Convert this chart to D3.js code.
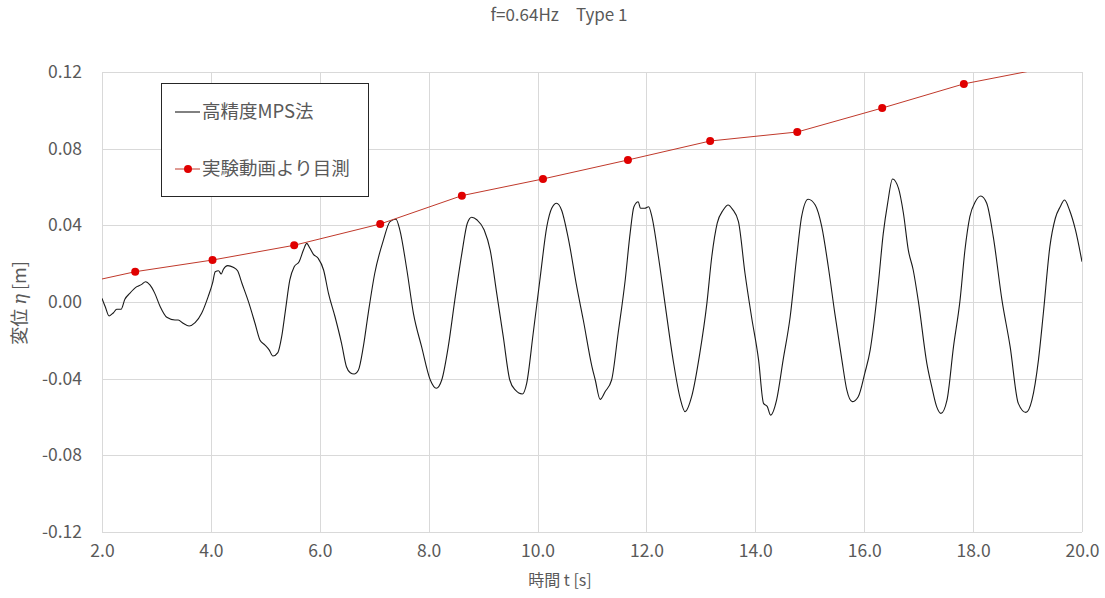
<!DOCTYPE html>
<html><head><meta charset="utf-8">
<script src="https://cdn.jsdelivr.net/npm/d3@7"></script>
<style>body{margin:0;background:#fff}svg{display:block}</style>
</head><body>
<svg id="c" width="1105" height="598"></svg>
<script>
const title = "f=0.64Hz\u3000Type 1";
const xTitle = "時間 t [s]";
const yTitleParts = ["変位 ", "η", " [m]"];
const legendLabels = ["高精度MPS法", "実験動画より目測"];
const xTicks = [2, 4, 6, 8, 10, 12, 14, 16, 18, 20];
const yTicks = [-0.12, -0.08, -0.04, 0.00, 0.04, 0.08, 0.12];

// 実験動画より目測 (red markers)
const expT   = [1.10, 2.61, 4.03, 5.53, 7.11, 8.61, 10.10, 11.66, 13.17, 14.77, 16.33, 17.83, 19.35];
const expEta = [0.0064, 0.0158, 0.0219, 0.0296, 0.0407, 0.0555, 0.0642, 0.0741, 0.0840, 0.0887, 0.1012, 0.1138, 0.1222];

// 高精度MPS法 (black line)
const mpsT = [2.00,2.06,2.13,2.21,2.27,2.35,2.42,2.51,2.64,2.73,2.80,2.88,2.97,3.07,3.19,3.34,3.40,3.49,3.60,3.71,3.83,3.95,4.03,4.08,4.14,4.19,4.23,4.31,4.41,4.49,4.57,4.69,4.81,4.90,4.99,5.07,5.14,5.23,5.30,5.37,5.45,5.53,5.62,5.70,5.76,5.82,5.88,5.97,6.07,6.16,6.28,6.40,6.49,6.56,6.63,6.71,6.80,6.89,7.01,7.17,7.29,7.40,7.47,7.60,7.72,7.87,8.03,8.14,8.24,8.36,8.48,8.61,8.71,8.79,8.89,9.02,9.13,9.25,9.37,9.49,9.59,9.72,9.80,9.92,10.05,10.17,10.26,10.35,10.44,10.57,10.72,10.84,11.00,11.06,11.15,11.24,11.36,11.48,11.61,11.70,11.77,11.85,11.89,11.97,12.04,12.10,12.22,12.34,12.49,12.62,12.71,12.83,12.98,13.11,13.20,13.30,13.41,13.50,13.58,13.69,13.81,13.93,14.06,14.15,14.22,14.28,14.39,14.51,14.64,14.76,14.85,14.97,15.10,15.22,15.34,15.46,15.59,15.68,15.78,15.89,16.01,16.11,16.17,16.26,16.35,16.43,16.52,16.63,16.72,16.81,16.90,17.00,17.15,17.24,17.33,17.41,17.52,17.64,17.76,17.85,17.94,18.04,18.14,18.25,18.37,18.53,18.68,18.83,18.97,19.08,19.20,19.29,19.41,19.51,19.60,19.68,19.77,19.88,20.00];
const mpsEta = [0.0019,-0.0025,-0.0073,-0.0056,-0.0038,-0.0038,0.0014,0.0045,0.0080,0.0092,0.0106,0.0089,0.0045,-0.0025,-0.0080,-0.0094,-0.0094,-0.0111,-0.0125,-0.0108,-0.0059,0.0028,0.0098,0.0158,0.0163,0.0146,0.0171,0.0190,0.0181,0.0163,0.0098,0.0002,-0.0111,-0.0198,-0.0224,-0.0250,-0.0282,-0.0264,-0.0181,-0.0042,0.0115,0.0184,0.0210,0.0271,0.0306,0.0280,0.0250,0.0228,0.0167,0.0045,-0.0077,-0.0216,-0.0338,-0.0369,-0.0376,-0.0355,-0.0233,-0.0059,0.0150,0.0324,0.0419,0.0432,0.0376,0.0167,-0.0059,-0.0233,-0.0407,-0.0450,-0.0407,-0.0233,0.0010,0.0254,0.0411,0.0442,0.0428,0.0376,0.0271,0.0045,-0.0181,-0.0407,-0.0459,-0.0480,-0.0424,-0.0163,0.0132,0.0393,0.0489,0.0515,0.0480,0.0324,0.0080,-0.0094,-0.0338,-0.0407,-0.0508,-0.0468,-0.0407,-0.0163,0.0115,0.0358,0.0497,0.0523,0.0489,0.0489,0.0497,0.0445,0.0236,-0.0007,-0.0303,-0.0503,-0.0572,-0.0494,-0.0268,-0.0007,0.0236,0.0411,0.0480,0.0506,0.0484,0.0419,0.0150,-0.0077,-0.0303,-0.0529,-0.0546,-0.0590,-0.0512,-0.0303,-0.0077,0.0236,0.0445,0.0536,0.0506,0.0393,0.0184,-0.0059,-0.0303,-0.0459,-0.0520,-0.0494,-0.0372,-0.0250,-0.0129,0.0098,0.0358,0.0515,0.0642,0.0593,0.0463,0.0271,0.0167,-0.0007,-0.0320,-0.0442,-0.0546,-0.0581,-0.0512,-0.0233,0.0010,0.0271,0.0445,0.0523,0.0553,0.0515,0.0341,0.0010,-0.0233,-0.0529,-0.0576,-0.0512,-0.0303,-0.0059,0.0289,0.0437,0.0497,0.0532,0.0480,0.0376,0.0210];

const svg = d3.select("#c");
const m = {left: 102, right: 1082, top: 72, bottom: 532};
const x = d3.scaleLinear().domain([2, 20]).range([m.left, m.right]);
const y = d3.scaleLinear().domain([-0.12, 0.12]).range([m.bottom, m.top]);
const fontJP = "'Noto Sans CJK JP','Noto Sans',sans-serif";
const txt = "#595959";
const fmtY = d => (d < 0 ? "-" : "") + Math.abs(d).toFixed(2);

// title
svg.append("text").attr("x", 559).attr("y", 21).attr("text-anchor", "middle")
  .attr("font-family", fontJP).attr("font-size", 17).attr("fill", txt).text(title);

// gridlines
const g = svg.append("g");
g.selectAll("line.h").data(yTicks).join("line")
  .attr("x1", m.left).attr("x2", m.right)
  .attr("y1", d => Math.round(y(d)) + 0.5).attr("y2", d => Math.round(y(d)) + 0.5)
  .attr("stroke", "#d9d9d9").attr("stroke-width", 1);
g.selectAll("line.v").data(xTicks).join("line")
  .attr("y1", m.top).attr("y2", m.bottom)
  .attr("x1", d => Math.round(x(d)) + 0.5).attr("x2", d => Math.round(x(d)) + 0.5)
  .attr("stroke", "#d9d9d9").attr("stroke-width", 1);

// axes via d3
const xAxis = d3.axisBottom(x).tickValues(xTicks).tickFormat(d => d.toFixed(1)).tickSize(0).tickPadding(13);
const yAxis = d3.axisLeft(y).tickValues(yTicks).tickFormat(fmtY).tickSize(0).tickPadding(20);
const gx = svg.append("g").attr("transform", `translate(0,${m.bottom})`).call(xAxis);
const gy = svg.append("g").attr("transform", `translate(${m.left},0)`).call(yAxis);
[gx, gy].forEach(a => {
  a.select(".domain").remove();
  a.selectAll("text").attr("font-family", fontJP).attr("font-size", 17.5).attr("fill", txt);
});

// axis titles
svg.append("text").attr("x", 560).attr("y", 586).attr("text-anchor", "middle")
  .attr("font-family", fontJP).attr("font-size", 16).attr("fill", txt).text(xTitle);
const yt = svg.append("text").attr("transform", "translate(26,303) rotate(-90)").attr("text-anchor", "middle")
  .attr("font-family", fontJP).attr("font-size", 18).attr("fill", txt);
yt.selectAll("tspan").data(yTitleParts).join("tspan")
  .attr("font-style", (d, i) => i === 1 ? "italic" : "normal")
  .attr("font-family", (d, i) => i === 1 ? "'DejaVu Serif',serif" : fontJP)
  .attr("xml:space", "preserve").text(d => d);

// clip
svg.append("clipPath").attr("id", "pc").append("rect")
  .attr("x", m.left).attr("y", m.top).attr("width", m.right - m.left).attr("height", m.bottom - m.top);

const plot = svg.append("g").attr("clip-path", "url(#pc)");

// MPS line
const mps = mpsT.map((t, i) => [t, mpsEta[i]]);
plot.append("path").datum(mps)
  .attr("d", d3.line().x(d => x(d[0])).y(d => y(d[1])).curve(d3.curveMonotoneX))
  .attr("fill", "none").attr("stroke", "#1a1a1a").attr("stroke-width", 1.1);

// Experimental
const exp = expT.map((t, i) => [t, expEta[i]]);
plot.append("path").datum(exp)
  .attr("d", d3.line().x(d => x(d[0])).y(d => y(d[1])))
  .attr("fill", "none").attr("stroke", "#c0392b").attr("stroke-width", 1);
plot.selectAll("circle.e").data(exp).join("circle")
  .attr("cx", d => x(d[0])).attr("cy", d => y(d[1])).attr("r", 4)
  .attr("fill", "#e00000");

// legend
const lg = svg.append("g");
lg.append("rect").attr("x", 161.5).attr("y", 83.5).attr("width", 207).attr("height", 113)
  .attr("fill", "#fff").attr("stroke", "#262626").attr("stroke-width", 1);
lg.append("line").attr("x1", 175).attr("x2", 200).attr("y1", 112).attr("y2", 112)
  .attr("stroke", "#1a1a1a").attr("stroke-width", 1.1);
lg.append("line").attr("x1", 175).attr("x2", 200).attr("y1", 169).attr("y2", 169)
  .attr("stroke", "#c0392b").attr("stroke-width", 1);
lg.append("circle").attr("cx", 188).attr("cy", 169).attr("r", 4).attr("fill", "#e00000");
lg.selectAll("text").data(legendLabels).join("text")
  .attr("x", 202).attr("y", (d, i) => [112, 169][i]).attr("dy", "0.35em")
  .attr("font-family", fontJP).attr("font-size", 18.5).attr("fill", txt).text(d => d);
</script>
</body></html>
